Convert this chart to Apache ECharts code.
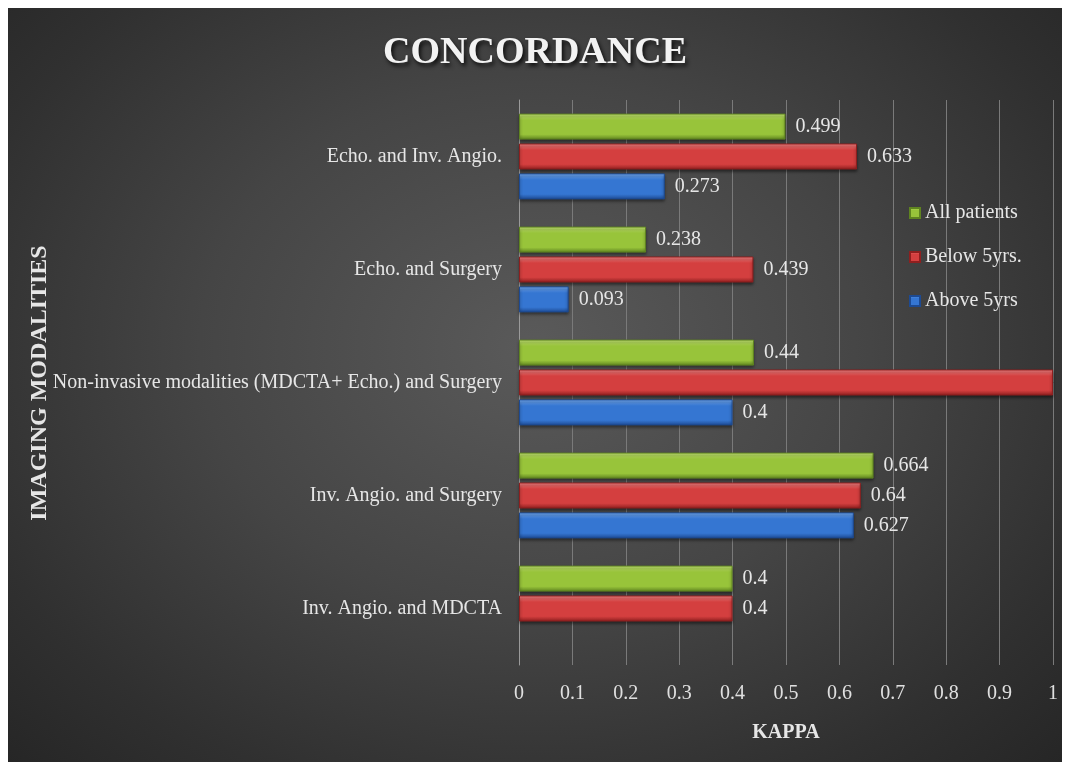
<!DOCTYPE html>
<html style="height: 100%">
<head>
<meta charset="utf-8">
<script src="https://cdn.jsdelivr.net/npm/echarts@6/dist/echarts.min.js"></script>
<style type="text/css">
  * { margin: 0; padding: 0; }
  body { background: #fff; }
  #container {
    position: absolute; left: 8px; top: 8px; width: 1054px; height: 754px;
    background: radial-gradient(ellipse at 50% 45%, #5a5a5a 0%, #454545 45%, #303030 80%, #262626 100%);
  }
</style>
</head>
<body>
<div id="container"></div>
<script type="text/javascript">
  // categories top to bottom
  var categories = [
    'Echo. and Inv. Angio.',
    'Echo. and Surgery',
    'Non-invasive modalities (MDCTA+ Echo.) and Surgery',
    'Inv. Angio. and Surgery',
    'Inv. Angio. and MDCTA'
  ];
  var allPatients = [0.499, 0.238, 0.44, 0.664, 0.4];
  var below5 = [0.633, 0.439, 1, 0.64, 0.4];
  var above5 = [0.273, 0.093, 0.4, 0.627, null];
  var xTicks = [0, 0.1, 0.2, 0.3, 0.4, 0.5, 0.6, 0.7, 0.8, 0.9, 1];

  var font = 'Liberation Serif';

  function grad(top, mid, bot) {
    return new echarts.graphic.LinearGradient(0, 0, 0, 1, [
      { offset: 0, color: top },
      { offset: 0.25, color: mid },
      { offset: 0.8, color: mid },
      { offset: 1, color: bot }
    ]);
  }

  function barSeries(name, data, colors) {
    return {
      name: name,
      type: 'bar',
      data: data,
      barWidth: 26,
      barGap: '15%',
      itemStyle: {
        color: grad(colors[0], colors[1], colors[2]),
        borderColor: colors[2],
        borderWidth: 1,
        shadowColor: 'rgba(0,0,0,0.5)',
        shadowBlur: 3,
        shadowOffsetY: 2
      },
      label: {
        show: true,
        position: 'right',
        distance: 10,
        color: '#e6e6e6',
        fontFamily: font,
        fontSize: 20
      }
    };
  }

  var myChart = echarts.init(document.getElementById('container'));
  var option = {
    title: {
      text: 'CONCORDANCE',
      left: 'center',
      top: 21,
      textStyle: {
        fontFamily: font,
        fontSize: 38,
        fontWeight: 'bold',
        color: '#f2f2f2',
        textShadowColor: 'rgba(0,0,0,0.8)',
        textShadowBlur: 4,
        textShadowOffsetX: 2,
        textShadowOffsetY: 3
      }
    },
    legend: {
      orient: 'vertical',
      left: 896,
      top: 190,
      itemWidth: 10,
      itemHeight: 10,
      itemGap: 24,
      icon: 'rect',
      textStyle: { color: '#e6e6e6', fontFamily: font, fontSize: 20 },
      data: ['All patients', 'Below 5yrs.', 'Above 5yrs']
    },
    // vertical axis title, placed by hand so it is not pushed past the long category label
    graphic: [{
      type: 'text',
      x: 32,
      y: 375,
      rotation: Math.PI / 2,
      style: {
        text: 'IMAGING MODALITIES',
        fill: '#e6e6e6',
        font: 'bold 24px "Liberation Serif"',
        align: 'center',
        verticalAlign: 'middle'
      }
    }],
    grid: { left: 511, right: 9, top: 92, bottom: 97 },
    xAxis: {
      type: 'value',
      min: 0,
      max: 1,
      interval: 0.1,
      name: 'KAPPA',
      nameLocation: 'middle',
      nameGap: 58,
      nameTextStyle: { color: '#e6e6e6', fontFamily: font, fontSize: 20, fontWeight: 'bold' },
      axisLine: { show: false },
      axisTick: { show: false },
      axisLabel: {
        color: '#e0e0e0', fontFamily: font, fontSize: 20, margin: 19,
        formatter: function (v) {
          var t = xTicks.filter(function (x) { return Math.abs(x - v) < 1e-9; });
          return t.length ? String(t[0]) : '';
        }
      },
      splitLine: { lineStyle: { color: '#7a7a7a', width: 1 } }
    },
    yAxis: {
      type: 'category',
      inverse: true,
      data: categories,
      axisLine: { show: true, lineStyle: { color: '#9a9a9a', width: 1 } },
      axisTick: { show: false },
      axisLabel: { color: '#e6e6e6', fontFamily: font, fontSize: 20, margin: 17 }
    },
    series: [
      barSeries('All patients', allPatients, ['#cdf07a', '#98c43a', '#5f8420']),
      barSeries('Below 5yrs.', below5, ['#ff8a8a', '#d43f3f', '#8e1f1f']),
      barSeries('Above 5yrs', above5, ['#7ab4ff', '#3576d2', '#1d4a92'])
    ]
  };
  myChart.setOption(option);
</script>
</body>
</html>
